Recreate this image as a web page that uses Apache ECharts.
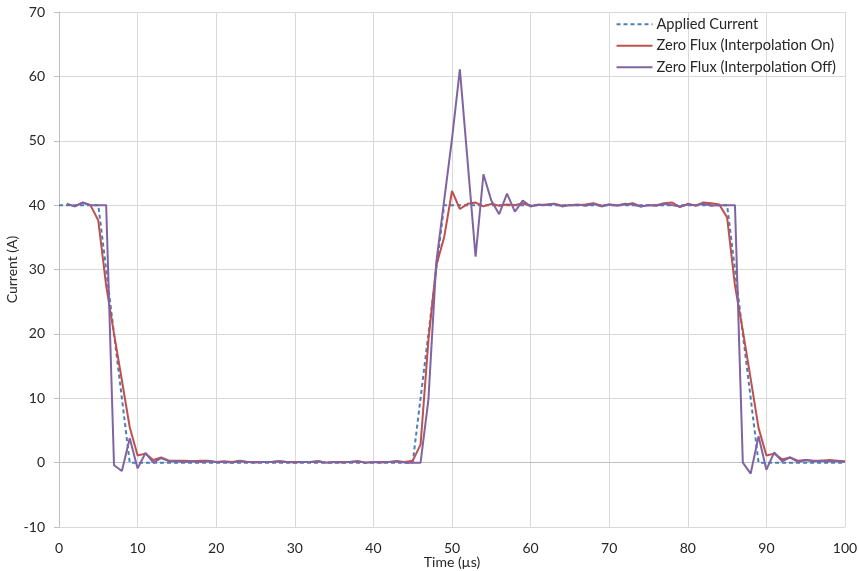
<!DOCTYPE html>
<html>
<head>
<meta charset="utf-8">
<title>Current vs Time</title>
<script src="https://cdn.jsdelivr.net/npm/echarts@6/dist/echarts.min.js"></script>
<style>
  html, body { margin: 0; padding: 0; background: #ffffff; }
  #chart { width: 859px; height: 571px; }
</style>
</head>
<body>
<div id="chart"></div>
<script>
// Applied current: piecewise-linear waveform given by its corner points
const appliedTime  = [0, 5, 9, 45, 49, 85, 89, 100];
const appliedValue = [40, 40, 0, 0, 40, 40, 0, 0];

// Sample instants (µs) of the measured channels
const sampleTime = [
  1, 2, 3, 4, 5, 6, 7, 8, 9, 10,
  11, 12, 13, 14, 15, 16, 17, 18, 19, 20,
  21, 22, 23, 24, 25, 26, 27, 28, 29, 30,
  31, 32, 33, 34, 35, 36, 37, 38, 39, 40,
  41, 42, 43, 44, 45, 46, 47, 48, 49, 50,
  51, 52, 53, 54, 55, 56, 57, 58, 59, 60,
  61, 62, 63, 64, 65, 66, 67, 68, 69, 70,
  71, 72, 73, 74, 75, 76, 77, 78, 79, 80,
  81, 82, 83, 84, 85, 86, 87, 88, 89, 90,
  91, 92, 93, 94, 95, 96, 97, 98, 99, 100
];

// Zero Flux sensor output with interpolation enabled (A)
const interpOn = [
  40.2, 39.8, 40.4, 40.0, 37.6, 27.5, 20.0, 12.8, 5.5, 1.1,
  1.4, 0.4, 0.8, 0.3, 0.3, 0.3, 0.2, 0.3, 0.3, 0.1,
  0.2, 0.1, 0.3, 0.1, 0.1, 0.1, 0.1, 0.2, 0.1, 0.1,
  0.1, 0.1, 0.2, 0.0, 0.1, 0.1, 0.1, 0.2, 0.0, 0.1,
  0.1, 0.1, 0.2, 0.1, 0.3, 2.8, 19.0, 30.6, 35.0, 42.2,
  39.4, 40.2, 40.4, 39.8, 40.2, 39.9, 40.1, 40.0, 40.3, 39.9,
  40.0, 40.1, 40.2, 39.9, 40.0, 40.0, 40.1, 40.3, 39.9, 40.1,
  40.0, 40.1, 40.3, 39.8, 40.0, 40.0, 40.3, 40.4, 39.7, 40.2,
  39.9, 40.4, 40.3, 40.1, 38.1, 27.5, 20.5, 13.0, 5.4, 1.1,
  1.4, 0.5, 0.8, 0.3, 0.4, 0.3, 0.3, 0.4, 0.3, 0.2
];

// Zero Flux sensor output with interpolation disabled (A)
const interpOff = [
  40.2, 39.8, 40.4, 40.0, 40.0, 40.0, -0.4, -1.3, 3.8, -0.9,
  1.5, 0.0, 0.7, 0.2, 0.2, 0.1, 0.2, 0.1, 0.2, 0.1,
  0.1, 0.0, 0.2, 0.1, 0.0, 0.1, 0.1, 0.2, 0.1, 0.0,
  0.1, 0.1, 0.2, 0.0, 0.1, 0.0, 0.1, 0.2, 0.0, 0.1,
  0.0, 0.1, 0.2, 0.0, 0.0, 0.0, 9.8, 31.1, 40.7, 50.3,
  61.1, 46.6, 32.0, 44.8, 40.7, 38.6, 41.8, 39.0, 40.7, 39.8,
  40.1, 40.0, 40.2, 39.8, 40.0, 40.1, 39.9, 40.2, 39.8, 40.1,
  39.9, 40.2, 40.1, 39.8, 40.0, 39.9, 40.2, 40.0, 39.8, 40.1,
  40.0, 40.2, 39.9, 40.0, 40.0, 40.0, 0.0, -1.7, 4.1, -1.1,
  1.6, 0.2, 0.8, 0.1, 0.4, 0.2, 0.3, 0.2, 0.2, 0.1
];

const seriesNames = ['Applied Current', 'Zero Flux (Interpolation On)', 'Zero Flux (Interpolation Off)'];
const seriesColors = ['#4a7ebb', '#c0504d', '#8064a2'];

const pairs = (xs, ys) => xs.map((x, i) => [x, ys[i]]);

const FONT = 'Lato, "Liberation Sans", sans-serif';
const TEXT = '#262626';

const chart = echarts.init(document.getElementById('chart'), null, { renderer: 'canvas' });

chart.setOption({
  animation: false,
  backgroundColor: '#ffffff',
  textStyle: { fontFamily: FONT },
  grid: { left: 59, right: 14, top: 12, bottom: 44, containLabel: false, outerBoundsMode: 'none' },
  legend: {
    orient: 'vertical',
    right: 18,
    top: 11,
    itemWidth: 36,
    itemHeight: 4,
    itemGap: 5,
    itemStyle: { opacity: 0 },
    textStyle: { fontFamily: FONT, fontSize: 14.6, color: TEXT, lineHeight: 16.5, padding: [0, 0, 0, -1] },
    data: seriesNames
  },
  xAxis: [
    {
      type: 'value',
      min: 0, max: 100, interval: 10,
      name: 'Time (µs)',
      nameLocation: 'middle',
      nameGap: 28,
      nameMoveOverlap: false,
      nameTextStyle: { fontFamily: FONT, fontSize: 14, color: TEXT },
      axisLine: { show: false, onZero: false },
      axisTick: { show: false },
      axisLabel: { fontFamily: FONT, fontSize: 14, color: TEXT, margin: 14 },
      splitLine: { show: true, lineStyle: { color: '#d9d9d9', width: 1 } }
    },
    {
      // horizontal axis line crossing at zero current
      type: 'value',
      position: 'bottom',
      min: 0, max: 100,
      axisLine: { show: true, onZero: true, lineStyle: { color: '#bfbfbf', width: 1 } },
      axisTick: { show: false },
      axisLabel: { show: false },
      splitLine: { show: false }
    }
  ],
  yAxis: {
    type: 'value',
    min: -10, max: 70, interval: 10,
    name: 'Current (A)',
    nameLocation: 'middle',
    nameRotate: 90,
    nameGap: 40,
    nameMoveOverlap: false,
    nameTextStyle: { fontFamily: FONT, fontSize: 14, color: TEXT },
    axisLine: { show: true, onZero: false, lineStyle: { color: '#bfbfbf', width: 1 } },
    axisTick: { show: true, inside: false, length: 5, lineStyle: { color: '#bfbfbf' } },
    axisLabel: { fontFamily: FONT, fontSize: 14, color: TEXT, margin: 14 },
    splitLine: { show: true, lineStyle: { color: '#d9d9d9', width: 1 } }
  },
  series: [
    {
      name: seriesNames[0],
      type: 'line',
      xAxisIndex: 0,
      data: pairs(appliedTime, appliedValue),
      symbol: 'none',
      color: seriesColors[0],
      lineStyle: { color: seriesColors[0], width: 2, type: [4, 3] },
      z: 2
    },
    {
      name: seriesNames[1],
      type: 'line',
      xAxisIndex: 0,
      data: pairs(sampleTime, interpOn),
      symbol: 'none',
      color: seriesColors[1],
      lineStyle: { color: seriesColors[1], width: 2 },
      z: 3
    },
    {
      name: seriesNames[2],
      type: 'line',
      xAxisIndex: 0,
      data: pairs(sampleTime, interpOff),
      symbol: 'none',
      color: seriesColors[2],
      lineStyle: { color: seriesColors[2], width: 2 },
      z: 4
    }
  ]
});
</script>
</body>
</html>
